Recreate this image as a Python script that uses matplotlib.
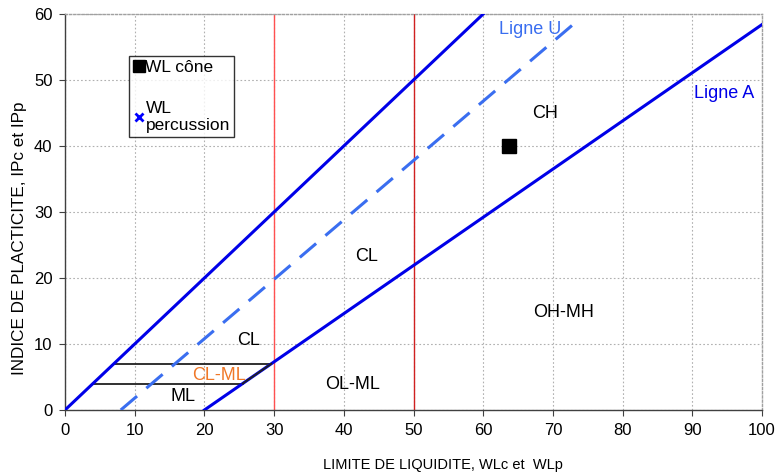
import matplotlib
matplotlib.use("Agg")
import matplotlib.pyplot as plt
from matplotlib.lines import Line2D
import numpy as np

plt.rcParams['font.family'] = ['Liberation Sans', 'DejaVu Sans']

# Chart boundary lines (Casagrande plasticity chart)
upper_ll = [0, 60]
upper_pi = [0, 60]
u_ll = [8, 74]
u_pi = [0, 0.9 * (74 - 8)]
a_ll = [20, 100]
a_pi = [0, 0.73 * (100 - 20)]

# CL-ML band limits
band_top = 7
band_bottom = 4
band_top_x = [7, 20 + 7 / 0.73]
band_bottom_x = [4, 20 + 4 / 0.73]

# Liquid-limit boundaries
ll_bounds = [30, 50]

# Measured sample
wl_cone = [63.7]
ip_cone = [40]

zone_labels = ["CL", "CH", "OH-MH", "OL-ML", "CL", "CL-ML", "ML"]
zone_x = [43.3, 68.9, 71.6, 41.3, 26.3, 22.1, 16.9]
zone_y = [23.2, 45.0, 14.7, 3.8, 10.5, 5.3, 2.0]
zone_colors = ["black", "black", "black", "black", "black", "#f07828", "black"]

fig = plt.figure(figsize=(7.75, 4.73), dpi=100)
ax = fig.add_axes([65 / 775, 63 / 473, 697 / 775, 396 / 473])

ax.set_xlim(0, 100)
ax.set_ylim(0, 60)
ax.set_xticks(np.arange(0, 101, 10))
ax.set_yticks(np.arange(0, 61, 10))
ax.grid(True, color="#b0b0b0", linestyle=(0, (1.5, 2)), linewidth=0.8)
ax.set_axisbelow(True)
for side in ["top", "right"]:
    ax.spines[side].set_color("#a0a0a0")
    ax.spines[side].set_linestyle((0, (1.5, 1.5)))
    ax.spines[side].set_linewidth(1.0)
for side in ["left", "bottom"]:
    ax.spines[side].set_color("#404040")
    ax.spines[side].set_linewidth(1.0)
ax.tick_params(direction="out", length=4, width=0.8, color="#404040",
               labelsize=12, pad=5)

# Liquid-limit boundaries
ax.axvline(ll_bounds[0], color="#ff5050", linewidth=1.0, zorder=2)
ax.axvline(ll_bounds[1], color="#d02020", linewidth=1.0, zorder=2)

# CL-ML band
ax.plot(band_top_x, [band_top, band_top], color="#202020", linewidth=1.3, zorder=3)
ax.plot(band_bottom_x, [band_bottom, band_bottom], color="#202020", linewidth=1.3, zorder=3)

# Boundary lines
ax.plot(upper_ll, upper_pi, color="#0000e8", linewidth=2.2, zorder=4)
ax.plot(a_ll, a_pi, color="#0000e8", linewidth=2.2, zorder=4)
ax.plot(u_ll, u_pi, color="#3a6ef0", linewidth=2.2, dashes=(7, 4), zorder=4)
ax.plot([band_bottom_x[1], band_top_x[1]], [band_bottom, band_top],
        color="#202020", linewidth=1.3, zorder=5)

# Sample point
ax.plot(wl_cone, ip_cone, marker="s", markersize=10, color="black",
        linestyle="none", zorder=6)

for lab, x, y, c in zip(zone_labels, zone_x, zone_y, zone_colors):
    ax.text(x, y, lab, color=c, fontsize=13, ha="center", va="center", zorder=7)

ax.text(66.7, 57.6, "Ligne U", color="#3a6ef0", fontsize=13, ha="center", va="center")
ax.text(94.5, 47.9, "Ligne A", color="#0000e8", fontsize=13, ha="center", va="center")

handles = [
    Line2D([], [], marker="s", color="black", linestyle="none", markersize=8),
    Line2D([], [], marker="x", color="#0000ff", linestyle="none", markersize=5.5,
           markeredgewidth=2),
]
leg = ax.legend(handles, ["WL cône", "WL\npercussion"], loc="upper left",
                bbox_to_anchor=(64 / 697, 354 / 396), frameon=True, fancybox=False,
                edgecolor="black", fontsize=12.5, handlelength=0.6,
                handletextpad=0.1, borderpad=0.25, labelspacing=1.45,
                borderaxespad=0)
leg.get_frame().set_linewidth(1.0)

fig.text(20 / 775, 1 - 238 / 473, "INDICE DE PLACTICITE, IPc et IPp", fontsize=12.3,
         rotation=90, ha="center", va="center")
fig.text(443 / 775, 8 / 473, "LIMITE DE LIQUIDITE, WLc et  WLp", fontsize=10.5,
         ha="center", va="center")

fig.savefig("out.png", dpi=100)
